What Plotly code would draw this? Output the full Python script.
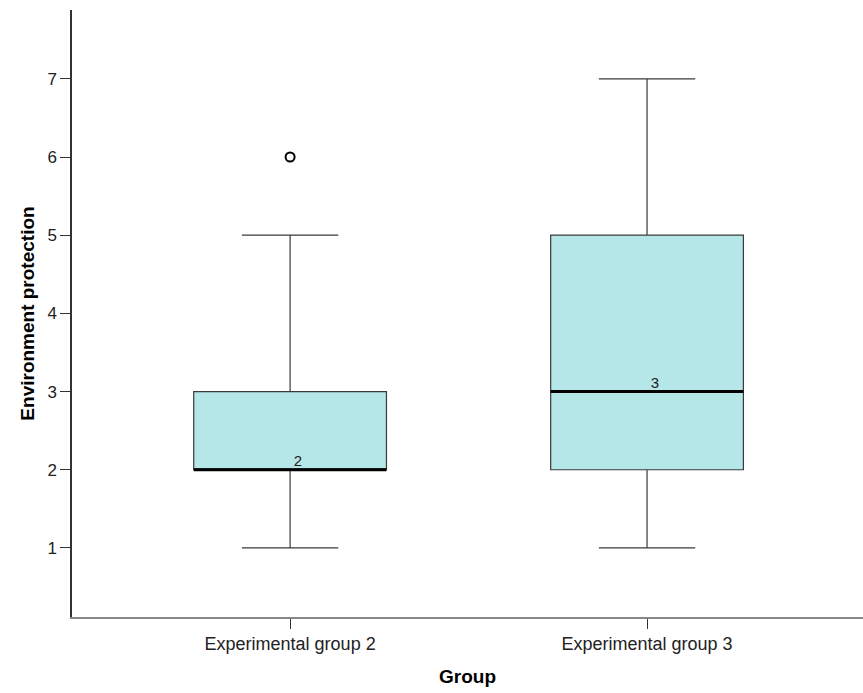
import plotly.graph_objects as go

# Summary statistics per group
groups = ["Experimental group 2", "Experimental group 3"]
positions = [0, 1]
lower_whisker = [1, 1]
q1 = [2, 2]
median = [2, 3]
q3 = [3, 5]
upper_whisker = [5, 7]
outlier_x = [0]
outlier_y = [6]

y_ticks = [1, 2, 3, 4, 5, 6, 7]

box_half = 0.27
fill = "#B5E6E8"
font_family = "Liberation Sans, Arial, sans-serif"

fig = go.Figure()

for i, g in enumerate(groups):
    fig.add_trace(go.Box(
        x=[positions[i]],
        q1=[q1[i]], median=[median[i]], q3=[q3[i]],
        lowerfence=[lower_whisker[i]], upperfence=[upper_whisker[i]],
        width=box_half * 2,
        whiskerwidth=0.5,
        fillcolor=fill,
        line=dict(color="#3a3a3a", width=1.2),
        name=g,
        showlegend=False,
        hoverinfo="skip",
    ))
    # thick median line with its value label
    fig.add_trace(go.Scatter(
        x=[positions[i] - box_half, positions[i] + box_half],
        y=[median[i], median[i]],
        mode="lines",
        line=dict(color="black", width=3),
        showlegend=False,
        hoverinfo="skip",
    ))
    fig.add_trace(go.Scatter(
        x=[positions[i] + 0.022],
        y=[median[i]],
        mode="text",
        text=[str(median[i])],
        textposition="top center",
        textfont=dict(family=font_family, size=15, color="#222"),
        showlegend=False,
        hoverinfo="skip",
    ))

fig.add_trace(go.Scatter(
    x=outlier_x, y=outlier_y,
    mode="markers",
    marker=dict(symbol="circle-open", size=9, color="black", line=dict(width=2, color="black")),
    showlegend=False,
    hoverinfo="skip",
))

fig.update_layout(
    width=863, height=693,
    margin=dict(l=72, r=0, t=10, b=76),
    paper_bgcolor="white",
    plot_bgcolor="white",
    font=dict(family=font_family, size=18, color="#222"),
    xaxis=dict(
        range=[-0.611, 1.605],
        tickmode="array", tickvals=positions, ticktext=groups,
        ticks="outside", ticklen=10, tickcolor="#333", tickwidth=1,
        showline=True, linecolor="#888", linewidth=1.5,
        showgrid=False, zeroline=False,
        tickfont=dict(size=18, color="#222"),
        title=dict(text="<b>Group</b>", font=dict(size=19, color="black"), standoff=16),
    ),
    yaxis=dict(
        range=[0.117, 7.88],
        tickmode="array", tickvals=y_ticks,
        ticks="outside", ticklen=10, tickcolor="#333", tickwidth=1,
        showline=True, linecolor="#333", linewidth=1.5,
        showgrid=False, zeroline=False,
        tickfont=dict(size=17, color="#222"),
        title=dict(text="<b>Environment protection</b>", font=dict(size=19, color="black"), standoff=8),
    ),
)

fig.write_html("out.html")
